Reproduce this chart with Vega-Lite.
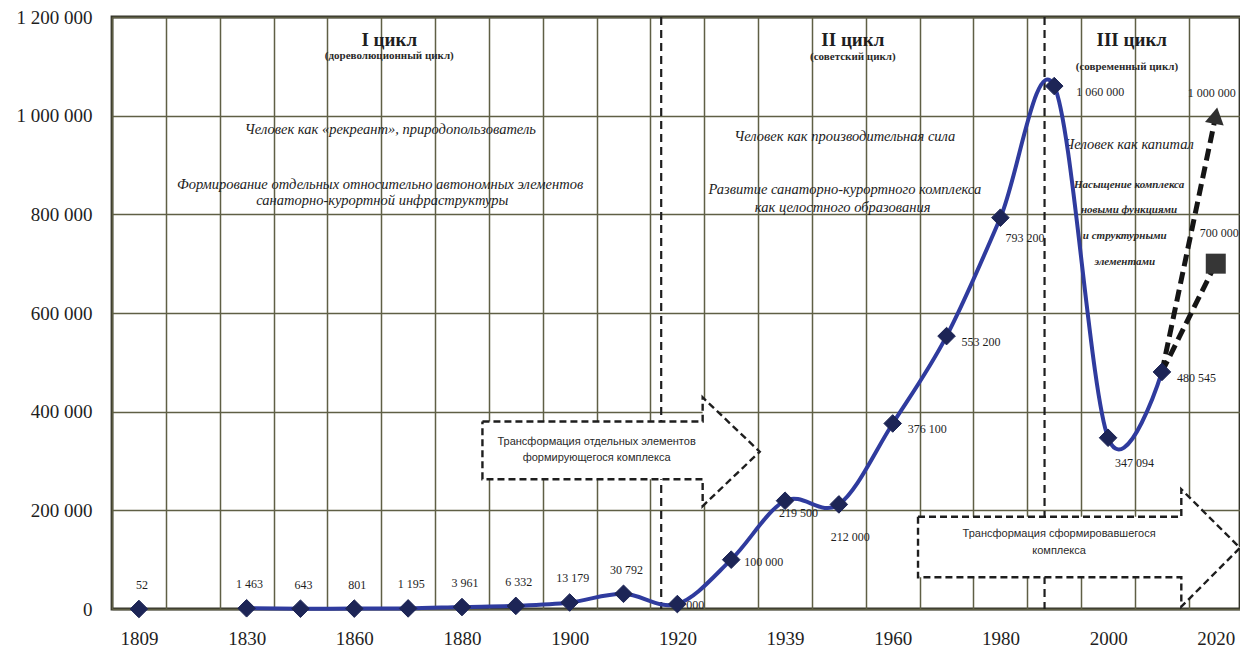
{
  "$schema": "https://vega.github.io/schema/vega-lite/v6.json",
  "width": 1128,
  "height": 592,
  "autosize": {"type": "none"},
  "padding": {"left": 112, "top": 17, "right": 0, "bottom": 46},
  "background": "white",
  "config": {
    "view": {"stroke": "#34342a", "strokeWidth": 2.8},
    "locale": {"number": {"decimal": ",", "thousands": " ", "grouping": [3], "currency": ["", ""]}},
    "axis": {"labelFont": "Liberation Serif", "labelColor": "#1e1e1e", "labelFontSize": 19, "ticks": false, "domain": false, "gridColor": "#5f5f45", "gridWidth": 1.5, "gridOpacity": 1},
    "text": {"font": "Liberation Serif", "color": "#1e1e1e"}
  },
  "datasets": {
    "visitors": [
      {"idx": 0, "year": "1809", "value": 52},
      {"idx": 2, "year": "1830", "value": 1463},
      {"idx": 3, "year": "1845", "value": 643},
      {"idx": 4, "year": "1860", "value": 801},
      {"idx": 5, "year": "1870", "value": 1195},
      {"idx": 6, "year": "1880", "value": 3961},
      {"idx": 7, "year": "1890", "value": 6332},
      {"idx": 8, "year": "1900", "value": 13179},
      {"idx": 9, "year": "1910", "value": 30792},
      {"idx": 10, "year": "1920", "value": 10000},
      {"idx": 11, "year": "1930", "value": 100000},
      {"idx": 12, "year": "1939", "value": 219500},
      {"idx": 13, "year": "1950", "value": 212000},
      {"idx": 14, "year": "1960", "value": 376100},
      {"idx": 15, "year": "1970", "value": 553200},
      {"idx": 16, "year": "1980", "value": 793200},
      {"idx": 17, "year": "1990", "value": 1060000},
      {"idx": 18, "year": "2000", "value": 347094},
      {"idx": 19, "year": "2010", "value": 480545}
    ],
    "forecast": [
      {"scenario": "high", "idx": 19, "value": 480545},
      {"scenario": "high", "idx": 20, "value": 1000000},
      {"scenario": "low", "idx": 19, "value": 480545},
      {"scenario": "low", "idx": 20, "value": 700000}
    ],
    "cycleBounds": [{"boundary": 9.7}, {"boundary": 16.82}],
    "arrowBody": [
      {"arrow": 1, "left": 6.38, "right": 10.47, "top": 380000, "bottom": 262900},
      {"arrow": 2, "left": 14.47, "right": 19.36, "top": 187000, "bottom": 64300}
    ],
    "arrowHead": [
      {"arrow": 1, "idx": 10.47, "upper": 429000, "lower": 208600},
      {"arrow": 1, "idx": 11.53, "upper": 318800, "lower": 318800},
      {"arrow": 2, "idx": 19.36, "upper": 242600, "lower": 4700},
      {"arrow": 2, "idx": 20.45, "upper": 124000, "lower": 124000}
    ],
    "arrowOutline": [
      {"arrow": 1, "k": 0, "idx": 6.38, "value": 380000},
      {"arrow": 1, "k": 1, "idx": 10.47, "value": 380000},
      {"arrow": 1, "k": 2, "idx": 10.47, "value": 429000},
      {"arrow": 1, "k": 3, "idx": 11.53, "value": 318800},
      {"arrow": 1, "k": 4, "idx": 10.47, "value": 208600},
      {"arrow": 1, "k": 5, "idx": 10.47, "value": 262900},
      {"arrow": 1, "k": 6, "idx": 6.38, "value": 262900},
      {"arrow": 1, "k": 7, "idx": 6.38, "value": 380000},
      {"arrow": 2, "k": 0, "idx": 14.47, "value": 187000},
      {"arrow": 2, "k": 1, "idx": 19.36, "value": 187000},
      {"arrow": 2, "k": 2, "idx": 19.36, "value": 242600},
      {"arrow": 2, "k": 3, "idx": 20.45, "value": 124000},
      {"arrow": 2, "k": 4, "idx": 19.36, "value": 4700},
      {"arrow": 2, "k": 5, "idx": 19.36, "value": 64300},
      {"arrow": 2, "k": 6, "idx": 14.47, "value": 64300},
      {"arrow": 2, "k": 7, "idx": 14.47, "value": 187000}
    ],
    "notes": [
      {"kind": "cycle", "idx": 4.65, "value": 1153000, "text": "I  цикл"},
      {"kind": "sub", "idx": 4.65, "value": 1121000, "text": "(дореволюционный цикл)"},
      {"kind": "cycle", "idx": 13.26, "value": 1153000, "text": "II цикл"},
      {"kind": "sub", "idx": 13.26, "value": 1119000, "text": "(советский цикл)"},
      {"kind": "cycle", "idx": 18.44, "value": 1153000, "text": "III цикл"},
      {"kind": "sub", "idx": 18.35, "value": 1098600, "text": "(современный цикл)"},
      {"kind": "theme", "idx": 4.67, "value": 971000, "text": "Человек как «рекреант», природопользователь"},
      {"kind": "theme", "idx": 4.48, "value": 859400, "text": "Формирование отдельных относительно автономных элементов"},
      {"kind": "theme", "idx": 4.52, "value": 827000, "text": "санаторно-курортной инфраструктуры"},
      {"kind": "theme", "idx": 13.11, "value": 956700, "text": "Человек как производительная сила"},
      {"kind": "theme", "idx": 13.11, "value": 849300, "text": "Развитие санаторно-курортного комплекса"},
      {"kind": "theme", "idx": 13.07, "value": 812800, "text": "как целостного образования"},
      {"kind": "theme", "idx": 18.39, "value": 940500, "text": "Человек как капитал"},
      {"kind": "small", "idx": 18.39, "value": 859400, "text": "Насыщение комплекса"},
      {"kind": "small", "idx": 18.39, "value": 808800, "text": "новыми функциями"},
      {"kind": "small", "idx": 18.31, "value": 756000, "text": "и структурными"},
      {"kind": "small", "idx": 18.31, "value": 703400, "text": "элементами"},
      {"kind": "arrow", "idx": 8.5, "value": 338500, "text": "Трансформация отдельных элементов"},
      {"kind": "arrow", "idx": 8.5, "value": 306000, "text": "формирующегося комплекса"},
      {"kind": "arrow", "idx": 17.09, "value": 152000, "text": "Трансформация сформировавшегося"},
      {"kind": "arrow", "idx": 17.09, "value": 117600, "text": "комплекса"}
    ]
  },
  "layer": [
    {
      "data": {"name": "cycleBounds"},
      "mark": {"type": "rule", "color": "#1e1e1e", "strokeWidth": 2.2, "strokeDash": [8, 5]},
      "encoding": {
        "x": {"field": "boundary", "type": "quantitative", "title": null,
          "scale": {"domain": [-0.5, 20.45], "nice": false, "zero": false},
          "axis": {
            "values": [-0.5, 0.5, 1.5, 2.5, 3.5, 4.5, 5.5, 6.5, 7.5, 8.5, 9.5, 10.5, 11.5, 12.5, 13.5, 14.5, 15.5, 16.5, 17.5, 18.5, 19.5],
            "labelExpr": "['1809','','1830','','1860','','1880','','1900','','1920','','1939','','1960','','1980','','2000','','2020'][datum.value + 0.5]",
            "labelOffset": 27,
            "labelFlush": false,
            "labelBound": false,
            "labelOverlap": false,
            "labelPadding": 20,
            "grid": true,
            "title": null
          }
        }
      }
    },
    {
      "data": {"name": "arrowBody"},
      "mark": {"type": "rect", "fill": "white"},
      "encoding": {
        "x": {"field": "left", "type": "quantitative", "title": null},
        "x2": {"field": "right"},
        "y": {"field": "top", "type": "quantitative", "title": null,
          "scale": {"domain": [0, 1200000], "nice": false},
          "axis": {"values": [0, 200000, 400000, 600000, 800000, 1000000, 1200000], "format": ",d", "grid": true, "labelPadding": 20, "title": null}
        },
        "y2": {"field": "bottom"}
      }
    },
    {
      "data": {"name": "arrowHead"},
      "mark": {"type": "area", "fill": "white", "orient": "vertical", "opacity": 1},
      "encoding": {
        "x": {"field": "idx", "type": "quantitative", "title": null},
        "y": {"field": "upper", "type": "quantitative", "title": null},
        "y2": {"field": "lower"},
        "detail": {"field": "arrow"}
      }
    },
    {
      "data": {"name": "arrowOutline"},
      "mark": {"type": "line", "color": "#1e1e1e", "strokeWidth": 2.4, "strokeDash": [7, 4]},
      "encoding": {
        "x": {"field": "idx", "type": "quantitative", "title": null},
        "y": {"field": "value", "type": "quantitative", "title": null},
        "order": {"field": "k"},
        "detail": {"field": "arrow"}
      }
    },
    {
      "data": {"name": "notes"},
      "transform": [{"filter": "datum.kind == 'cycle'"}],
      "mark": {"type": "text", "fontSize": 19, "fontWeight": "bold", "baseline": "middle"},
      "encoding": {
        "x": {"field": "idx", "type": "quantitative", "title": null},
        "y": {"field": "value", "type": "quantitative", "title": null},
        "text": {"field": "text"}
      }
    },
    {
      "data": {"name": "notes"},
      "transform": [{"filter": "datum.kind == 'sub'"}],
      "mark": {"type": "text", "fontSize": 11, "fontWeight": "bold", "baseline": "middle", "color": "#2a2a2a"},
      "encoding": {
        "x": {"field": "idx", "type": "quantitative", "title": null},
        "y": {"field": "value", "type": "quantitative", "title": null},
        "text": {"field": "text"}
      }
    },
    {
      "data": {"name": "notes"},
      "transform": [{"filter": "datum.kind == 'theme'"}],
      "mark": {"type": "text", "fontSize": 14.5, "fontStyle": "italic", "baseline": "middle", "color": "#222222"},
      "encoding": {
        "x": {"field": "idx", "type": "quantitative", "title": null},
        "y": {"field": "value", "type": "quantitative", "title": null},
        "text": {"field": "text"}
      }
    },
    {
      "data": {"name": "notes"},
      "transform": [{"filter": "datum.kind == 'small'"}],
      "mark": {"type": "text", "fontSize": 11, "fontStyle": "italic", "fontWeight": "bold", "baseline": "middle", "color": "#2a2a2a"},
      "encoding": {
        "x": {"field": "idx", "type": "quantitative", "title": null},
        "y": {"field": "value", "type": "quantitative", "title": null},
        "text": {"field": "text"}
      }
    },
    {
      "data": {"name": "notes"},
      "transform": [{"filter": "datum.kind == 'arrow'"}],
      "mark": {"type": "text", "font": "Liberation Sans", "fontSize": 11, "baseline": "middle", "color": "#2a2a2a"},
      "encoding": {
        "x": {"field": "idx", "type": "quantitative", "title": null},
        "y": {"field": "value", "type": "quantitative", "title": null},
        "text": {"field": "text"}
      }
    },
    {
      "data": {"name": "visitors"},
      "transform": [{"filter": "datum.idx >= 2"}],
      "mark": {"type": "line", "interpolate": "cardinal", "color": "#2f3b9e", "strokeWidth": 4},
      "encoding": {
        "x": {"field": "idx", "type": "quantitative", "title": null},
        "y": {"field": "value", "type": "quantitative", "title": null}
      }
    },
    {
      "data": {"name": "forecast"},
      "mark": {"type": "line", "color": "#151515", "strokeWidth": 5, "strokeDash": [12, 6]},
      "encoding": {
        "x": {"field": "idx", "type": "quantitative", "title": null},
        "y": {"field": "value", "type": "quantitative", "title": null},
        "detail": {"field": "scenario"}
      }
    },
    {
      "data": {"name": "visitors"},
      "transform": [{"filter": "datum.idx <= 9"}],
      "mark": {"type": "text", "fontSize": 12, "dx": 3, "dy": -24, "baseline": "middle"},
      "encoding": {
        "x": {"field": "idx", "type": "quantitative", "title": null},
        "y": {"field": "value", "type": "quantitative", "title": null},
        "text": {"field": "value", "type": "quantitative", "format": ",d"}
      }
    },
    {
      "data": {"name": "visitors"},
      "transform": [{"filter": "datum.idx == 10"}],
      "mark": {"type": "text", "fontSize": 12, "align": "left", "dx": -6, "dy": 1, "baseline": "middle"},
      "encoding": {
        "x": {"field": "idx", "type": "quantitative", "title": null},
        "y": {"field": "value", "type": "quantitative", "title": null},
        "text": {"field": "value", "type": "quantitative", "format": ",d"}
      }
    },
    {
      "data": {"name": "visitors"},
      "transform": [{"filter": "datum.idx == 11"}],
      "mark": {"type": "text", "fontSize": 12, "align": "left", "dx": 13, "dy": 2, "baseline": "middle"},
      "encoding": {
        "x": {"field": "idx", "type": "quantitative", "title": null},
        "y": {"field": "value", "type": "quantitative", "title": null},
        "text": {"field": "value", "type": "quantitative", "format": ",d"}
      }
    },
    {
      "data": {"name": "visitors"},
      "transform": [{"filter": "datum.idx == 12"}],
      "mark": {"type": "text", "fontSize": 12, "align": "left", "dx": -6, "dy": 12, "baseline": "middle"},
      "encoding": {
        "x": {"field": "idx", "type": "quantitative", "title": null},
        "y": {"field": "value", "type": "quantitative", "title": null},
        "text": {"field": "value", "type": "quantitative", "format": ",d"}
      }
    },
    {
      "data": {"name": "visitors"},
      "transform": [{"filter": "datum.idx == 13"}],
      "mark": {"type": "text", "fontSize": 12, "align": "left", "dx": -8, "dy": 33, "baseline": "middle"},
      "encoding": {
        "x": {"field": "idx", "type": "quantitative", "title": null},
        "y": {"field": "value", "type": "quantitative", "title": null},
        "text": {"field": "value", "type": "quantitative", "format": ",d"}
      }
    },
    {
      "data": {"name": "visitors"},
      "transform": [{"filter": "datum.idx == 14 || datum.idx == 15 || datum.idx == 19"}],
      "mark": {"type": "text", "fontSize": 12, "align": "left", "dx": 15, "dy": 6, "baseline": "middle"},
      "encoding": {
        "x": {"field": "idx", "type": "quantitative", "title": null},
        "y": {"field": "value", "type": "quantitative", "title": null},
        "text": {"field": "value", "type": "quantitative", "format": ",d"}
      }
    },
    {
      "data": {"name": "visitors"},
      "transform": [{"filter": "datum.idx == 16"}],
      "mark": {"type": "text", "fontSize": 12, "align": "left", "dx": 5, "dy": 20, "baseline": "middle"},
      "encoding": {
        "x": {"field": "idx", "type": "quantitative", "title": null},
        "y": {"field": "value", "type": "quantitative", "title": null},
        "text": {"field": "value", "type": "quantitative", "format": ",d"}
      }
    },
    {
      "data": {"name": "visitors"},
      "transform": [{"filter": "datum.idx == 17"}],
      "mark": {"type": "text", "fontSize": 12, "align": "left", "dx": 22, "dy": 6, "baseline": "middle"},
      "encoding": {
        "x": {"field": "idx", "type": "quantitative", "title": null},
        "y": {"field": "value", "type": "quantitative", "title": null},
        "text": {"field": "value", "type": "quantitative", "format": ",d"}
      }
    },
    {
      "data": {"name": "visitors"},
      "transform": [{"filter": "datum.idx == 18"}],
      "mark": {"type": "text", "fontSize": 12, "align": "left", "dx": 7, "dy": 25, "baseline": "middle"},
      "encoding": {
        "x": {"field": "idx", "type": "quantitative", "title": null},
        "y": {"field": "value", "type": "quantitative", "title": null},
        "text": {"field": "value", "type": "quantitative", "format": ",d"}
      }
    },
    {
      "data": {"name": "forecast"},
      "transform": [{"filter": "datum.idx == 20 && datum.scenario == 'high'"}],
      "mark": {"type": "text", "fontSize": 12, "align": "left", "dx": -28, "dy": -23, "baseline": "middle"},
      "encoding": {
        "x": {"field": "idx", "type": "quantitative", "title": null},
        "y": {"field": "value", "type": "quantitative", "title": null},
        "text": {"field": "value", "type": "quantitative", "format": ",d"}
      }
    },
    {
      "data": {"name": "forecast"},
      "transform": [{"filter": "datum.idx == 20 && datum.scenario == 'low'"}],
      "mark": {"type": "text", "fontSize": 12, "align": "left", "dx": -16, "dy": -31, "baseline": "middle"},
      "encoding": {
        "x": {"field": "idx", "type": "quantitative", "title": null},
        "y": {"field": "value", "type": "quantitative", "title": null},
        "text": {"field": "value", "type": "quantitative", "format": ",d"}
      }
    },
    {
      "data": {"name": "visitors"},
      "mark": {"type": "point", "shape": "diamond", "size": 310, "filled": true, "fill": "#1d2556", "stroke": "#1d2556", "strokeWidth": 1, "opacity": 1},
      "encoding": {
        "x": {"field": "idx", "type": "quantitative", "title": null},
        "y": {"field": "value", "type": "quantitative", "title": null}
      }
    },
    {
      "data": {"name": "forecast"},
      "transform": [{"filter": "datum.idx == 20 && datum.scenario == 'high'"}],
      "mark": {"type": "point", "shape": "triangle-up", "size": 360, "angle": 10, "filled": true, "color": "#2f2f2f", "opacity": 1},
      "encoding": {
        "x": {"field": "idx", "type": "quantitative", "title": null},
        "y": {"field": "value", "type": "quantitative", "title": null}
      }
    },
    {
      "data": {"name": "forecast"},
      "transform": [{"filter": "datum.idx == 20 && datum.scenario == 'low'"}],
      "mark": {"type": "point", "shape": "square", "size": 400, "filled": true, "color": "#363636", "opacity": 1},
      "encoding": {
        "x": {"field": "idx", "type": "quantitative", "title": null},
        "y": {"field": "value", "type": "quantitative", "title": null}
      }
    }
  ]
}
